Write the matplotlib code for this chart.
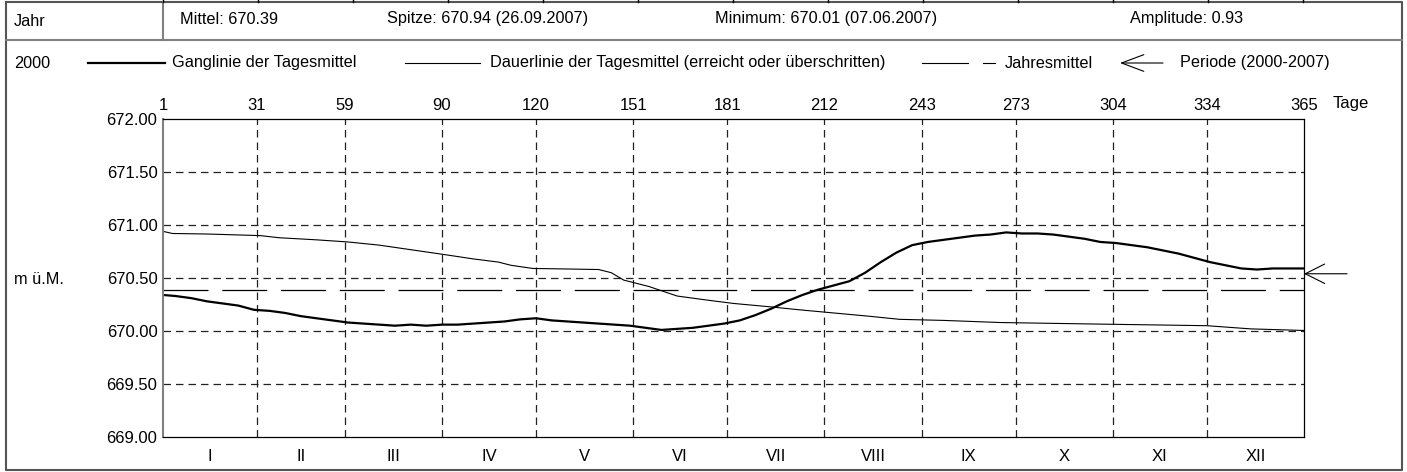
import matplotlib
matplotlib.use("Agg")
import matplotlib.pyplot as plt

plt.rcParams['font.family'] = ['Liberation Sans', 'DejaVu Sans']

# statistics / header
jahr = "2000"
mittel = 670.39
periode_mittel = 670.54
header = ["Mittel: 670.39", "Spitze: 670.94 (26.09.2007)",
          "Minimum: 670.01 (07.06.2007)", "Amplitude: 0.93"]

# month boundaries (days) and names
month_days = [1, 31, 59, 90, 120, 151, 181, 212, 243, 273, 304, 334, 365]
month_names = ["I", "II", "III", "IV", "V", "VI", "VII", "VIII", "IX", "X", "XI", "XII"]
y_ticks = [669.0, 669.5, 670.0, 670.5, 671.0, 671.5, 672.0]

# Ganglinie der Tagesmittel (read every 5 days)
gang_days = [1, 5, 10, 15, 20, 25, 30, 35, 40, 45, 50, 55, 60, 65, 70, 75, 80, 85,
             90, 95, 100, 105, 110, 115, 120, 125, 130, 135, 140, 145, 150, 155, 160,
             165, 170, 175, 180, 185, 190, 195, 200, 205, 210, 215, 220, 225, 230, 235,
             240, 245, 250, 255, 260, 265, 270, 275, 280, 285, 290, 295, 300, 305, 310,
             315, 320, 325, 330, 335, 340, 345, 350, 355, 360, 365]
gang_vals = [670.34, 670.33, 670.31, 670.28, 670.26, 670.24, 670.20, 670.19, 670.17,
             670.14, 670.12, 670.10, 670.08, 670.07, 670.06, 670.05, 670.06, 670.05,
             670.06, 670.06, 670.07, 670.08, 670.09, 670.11, 670.12, 670.10, 670.09,
             670.08, 670.07, 670.06, 670.05, 670.03, 670.01, 670.02, 670.03, 670.05,
             670.07, 670.10, 670.15, 670.21, 670.28, 670.34, 670.39, 670.43, 670.47,
             670.55, 670.65, 670.74, 670.81, 670.84, 670.86, 670.88, 670.90, 670.91,
             670.93, 670.92, 670.92, 670.91, 670.89, 670.87, 670.84, 670.83, 670.81,
             670.79, 670.76, 670.73, 670.69, 670.65, 670.62, 670.59, 670.58, 670.59,
             670.59, 670.59]

# Dauerlinie der Tagesmittel
dauer_days = [1, 4, 15, 32, 38, 50, 60, 70, 77, 91, 100, 108, 112, 119, 130, 140, 144,
              148, 152, 156, 165, 175, 183, 194, 204, 215, 226, 236, 250, 268, 300,
              334, 348, 365]
dauer_vals = [670.94, 670.92, 670.915, 670.90, 670.88, 670.86, 670.84, 670.81, 670.78,
              670.72, 670.68, 670.65, 670.62, 670.59, 670.585, 670.58, 670.55, 670.48,
              670.45, 670.42, 670.33, 670.29, 670.26, 670.23, 670.20, 670.17, 670.14,
              670.11, 670.10, 670.08, 670.065, 670.05, 670.02, 670.005]

W, H = 1407, 472
fig = plt.figure(figsize=(W / 100, H / 100), dpi=100)

# frame / table in pixel coordinates
bg = fig.add_axes([0, 0, 1, 1])
bg.set_xlim(0, W)
bg.set_ylim(H, 0)
bg.axis('off')
frame = dict(color='#555555', lw=1.5)
bg.plot([6, 1402, 1402, 6, 6], [2, 2, 470, 470, 2], **frame)
bg.plot([6, 1402], [40, 40], color='#808080', lw=1.5)
bg.plot([163, 163], [2, 40], color='#808080', lw=1.5)
for k in range(13):
    bg.plot([163 + 95 * k] * 2, [0, 2], color='black', lw=1)

fs = 11.7
bg.text(14, 22, "Jahr", fontsize=fs, va='center')
for xp, t in zip([180, 387, 715, 1130], header):
    bg.text(xp, 19, t, fontsize=fs, va='center')

ly = 63
bg.text(14, ly, jahr, fontsize=fs, va='center')
bg.plot([88, 165], [ly, ly], color='black', lw=1.6)
bg.text(172, ly, "Ganglinie der Tagesmittel", fontsize=fs, va='center')
bg.plot([405, 480], [ly, ly], color='black', lw=0.8)
bg.text(490, ly, "Dauerlinie der Tagesmittel (erreicht oder überschritten)", fontsize=fs, va='center')
bg.plot([922, 968], [ly, ly], color='black', lw=0.8)
bg.plot([983, 995], [ly, ly], color='black', lw=0.8)
bg.text(1005, ly, "Jahresmittel", fontsize=fs, va='center')
bg.annotate('', xy=(1120, ly), xytext=(1163, ly),
            arrowprops=dict(arrowstyle='->,head_length=1.6,head_width=0.6',
                            lw=0.8, color='black', shrinkA=0, shrinkB=0))
bg.text(1180, ly, "Periode (2000-2007)", fontsize=fs, va='center')
bg.text(14, 279, "m ü.M.", fontsize=fs, va='center')

# chart
ax = fig.add_axes([163 / W, 1 - 437 / H, (1304 - 163) / W, (437 - 119) / H])
ax.set_xlim(1, 365)
ax.set_ylim(669, 672)

grid = dict(color='#222222', lw=0.9, ls=(0, (6, 4)))
for d in month_days[1:-1]:
    ax.axvline(d, **grid)
for v in y_ticks[1:-1]:
    ax.axhline(v, **grid)

ax.axhline(mittel, color='black', lw=0.9, ls=(0, (36, 11)))
ax.plot(dauer_days, dauer_vals, color='black', lw=0.8)
ax.plot(gang_days, gang_vals, color='black', lw=1.6)

ax.annotate('', xy=(365, periode_mittel), xycoords='data',
            xytext=(31, 0), textcoords='offset points',
            arrowprops=dict(arrowstyle='->,head_length=1.4,head_width=0.7',
                            lw=0.8, color='black', shrinkA=0, shrinkB=0),
            annotation_clip=False)

ax.xaxis.tick_top()
ax.set_xticks(month_days)
ax.set_xticklabels([str(d) for d in month_days], fontsize=12)
ax.set_yticks(y_ticks)
ax.set_yticklabels(["%.2f" % v for v in y_ticks], fontsize=12)
ax.tick_params(length=0, pad=4)
ax.text(1.025, 1.048, "Tage", transform=ax.transAxes, fontsize=12, va='center')

for i, name in enumerate(month_names):
    ax.text((month_days[i] + month_days[i + 1]) / 2, 668.82, name,
            fontsize=12, ha='center', va='center')

for s in ['top', 'right', 'bottom']:
    ax.spines[s].set_linewidth(0.9)
ax.spines['left'].set_color('#808080')
ax.spines['left'].set_linewidth(1.5)

fig.savefig("out.png", dpi=100)
